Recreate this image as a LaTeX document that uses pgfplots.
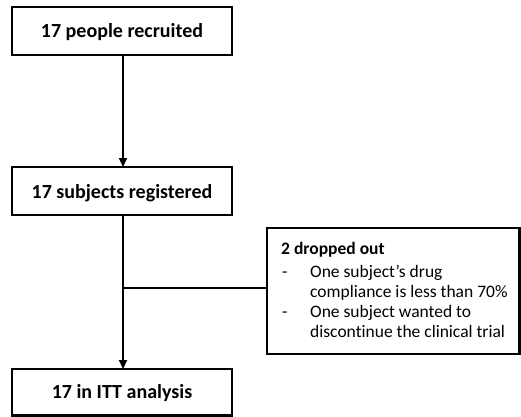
\documentclass[border=0pt]{standalone}
\usepackage{pgfplots}
\pgfplotsset{compat=1.18}
\usepackage{fontspec}
\setmainfont{Carlito}[Ligatures=NoCommon]
\usetikzlibrary{arrows.meta}
\begin{document}
\begin{tikzpicture}
\begin{axis}[
  width=521bp, height=417bp, scale only axis,
  xmin=0, xmax=521, ymin=0, ymax=417, y dir=reverse,
  hide axis, clip=false,
]
% invisible frame fixing the picture's extent
\addplot[draw=none, mark=none] coordinates {(0,0) (521,417)};
% boxes
\addplot[black, line width=2.2bp, mark=none] coordinates {(12,7) (232,7) (232,55) (12,55)} -- cycle;
\addplot[black, line width=2.2bp, mark=none] coordinates {(12,167) (232,167) (232,215) (12,215)} -- cycle;
\addplot[black, line width=2.2bp, mark=none] coordinates {(12,369) (232,369) (232,415.5) (12,415.5)} -- cycle;
\addplot[black, line width=2.2bp, mark=none] coordinates {(267,228) (519.5,228) (519.5,354) (267,354)} -- cycle;
% connectors
\addplot[black, line width=2.2bp, mark=none, -{Triangle[width=8bp,length=9bp]}] coordinates {(123,55) (123,167)};
\addplot[black, line width=2.2bp, mark=none, -{Triangle[width=8bp,length=9bp]}] coordinates {(123,215) (123,369)};
\addplot[black, line width=2.2bp, mark=none] coordinates {(123,288) (267,288)};
% texts
\node[anchor=base, inner sep=0pt, font=\fontsize{20bp}{23bp}\selectfont\bfseries] at (axis cs:122,38) {17 people recruited};
\node[anchor=base, inner sep=0pt, font=\fontsize{20bp}{23bp}\selectfont\bfseries] at (axis cs:122,198) {17 subjects registered};
\node[anchor=base, inner sep=0pt, font=\fontsize{20bp}{23bp}\selectfont\bfseries] at (axis cs:122,398) {17 in ITT analysis};
\node[anchor=base west, inner sep=0pt, font=\fontsize{17.5bp}{20bp}\selectfont\bfseries] at (axis cs:281,254) {2 dropped out};
\node[anchor=base west, inner sep=0pt, font=\fontsize{17.5bp}{20bp}\selectfont] at (axis cs:282,277) {-};
\node[anchor=base west, inner sep=0pt, font=\fontsize{17.5bp}{20bp}\selectfont] at (axis cs:310,277) {One subject’s drug};
\node[anchor=base west, inner sep=0pt, font=\fontsize{17.5bp}{20bp}\selectfont] at (axis cs:310,297) {compliance is less than 70\%};
\node[anchor=base west, inner sep=0pt, font=\fontsize{17.5bp}{20bp}\selectfont] at (axis cs:282,317) {-};
\node[anchor=base west, inner sep=0pt, font=\fontsize{17.5bp}{20bp}\selectfont] at (axis cs:310,317) {One subject wanted to};
\node[anchor=base west, inner sep=0pt, font=\fontsize{17.5bp}{20bp}\selectfont] at (axis cs:310,337) {discontinue the clinical trial};
\end{axis}
\end{tikzpicture}
\end{document}
